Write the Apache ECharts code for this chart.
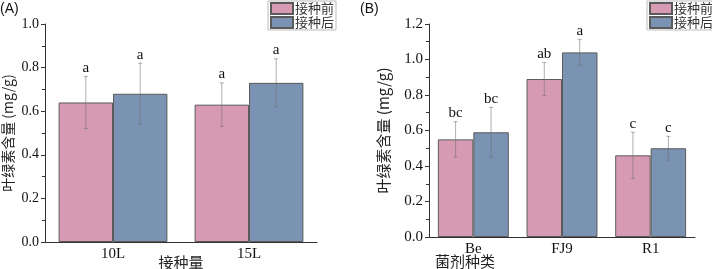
<!DOCTYPE html>
<html>
<head>
<meta charset="utf-8">
<script src="https://cdn.jsdelivr.net/npm/echarts@6/dist/echarts.min.js"></script>
<style>
  html, body { margin: 0; padding: 0; background: #fff; }
  #chart { width: 712px; height: 269px; }
</style>
</head>
<body>
<div id="chart"></div>
<script>
// 图例
var seriesNames = ['接种前', '接种后']

// (A) 接种量
var catsA = ['10L', '15L']
var beforeA = [0.64, 0.63]
var afterA = [0.68, 0.73]
var beforeAErr = [0.12, 0.10]
var afterAErr = [0.14, 0.11]
var beforeALetters = ['a', 'a']
var afterALetters = ['a', 'a']

// (B) 菌剂种类
var catsB = ['Be', 'FJ9', 'R1']
var beforeB = [0.55, 0.89, 0.46]
var afterB = [0.59, 1.04, 0.50]
var beforeBErr = [0.10, 0.093, 0.13]
var afterBErr = [0.14, 0.072, 0.067]
var beforeBLetters = ['bc', 'ab', 'c']
var afterBLetters = ['bc', 'a', 'c']

var pink = '#d69bb3'
var blue = '#7a93b2'
var serif = '"Liberation Serif", "Times New Roman", serif'
var cjk = '"Noto Sans CJK SC", sans-serif'

var chart = echarts.init(document.getElementById('chart'))

// 误差棒 + 显著性字母
function errorSeries (gridIdx, vals, errs, letters, side) {
  var data = vals.map(function (v, i) {
    return [i, v, v - errs[i], v + errs[i], letters[i]]
  })
  return {
    type: 'custom',
    xAxisIndex: gridIdx * 2,
    yAxisIndex: gridIdx,
    z: 10,
    silent: true,
    renderItem: function (params, api) {
      var band = api.size([1, 0])[0]
      var c = api.coord([api.value(0), 0])
      var x = c[0] + side * band * 0.2
      var hi = api.coord([api.value(0), api.value(3)])[1]
      var lo = api.coord([api.value(0), api.value(2)])[1]
      var st = { stroke: 'rgba(110,110,110,0.55)', lineWidth: 1 }
      return {
        type: 'group',
        children: [
          { type: 'line', shape: { x1: x, y1: hi, x2: x, y2: lo }, style: st },
          { type: 'line', shape: { x1: x - 2, y1: hi, x2: x + 2, y2: hi }, style: st },
          { type: 'line', shape: { x1: x - 2, y1: lo, x2: x + 2, y2: lo }, style: st },
          {
            type: 'text',
            x: x,
            y: hi - 1,
            style: {
              text: api.value(4),
              align: 'center',
              verticalAlign: 'bottom',
              font: '15px ' + serif,
              fill: '#111'
            }
          }
        ]
      }
    },
    data: data
  }
}

function barSeries (name, gridIdx, vals, color) {
  return {
    name: name,
    type: 'bar',
    xAxisIndex: gridIdx * 2,
    yAxisIndex: gridIdx,
    barGap: '0%',
    barCategoryGap: '20%',
    itemStyle: { color: color, borderColor: '#5a5a5a', borderWidth: 1 },
    data: vals
  }
}

function xAxes (gridIdx, cats) {
  return [
    {
      type: 'category',
      gridIndex: gridIdx,
      data: cats,
      axisLine: { lineStyle: { color: '#333', width: 1 } },
      axisTick: { alignWithLabel: true, inside: false, length: 4, lineStyle: { color: '#333' } },
      axisLabel: { color: '#111', fontFamily: serif, fontSize: 15, margin: 5 }
    },
    {
      type: 'category',
      gridIndex: gridIdx,
      data: cats,
      position: 'bottom',
      axisLine: { show: false },
      axisTick: { length: 3, lineStyle: { color: '#333' } },
      axisLabel: { show: false }
    }
  ]
}

function yAxis (gridIdx, max, fs) {
  return {
    type: 'value',
    gridIndex: gridIdx,
    min: 0,
    max: max,
    interval: 0.2,
    name: '叶绿素含量 (mg/g)',
    nameLocation: 'middle',
    nameGap: gridIdx === 0 ? 30 : 38,
    nameTextStyle: { fontFamily: cjk, fontSize: fs, color: '#222' },
    axisLine: { show: true, lineStyle: { color: '#333', width: 1 } },
    axisTick: { show: true, length: 4, lineStyle: { color: '#333' } },
    minorTick: { show: true, splitNumber: 2, length: 3, lineStyle: { color: '#333' } },
    splitLine: { show: false },
    axisLabel: {
      color: '#111',
      fontFamily: serif,
      fontSize: fs,
      margin: 6,
      formatter: function (v) { return v.toFixed(1) }
    }
  }
}

function legendAt (left) {
  return {
    data: seriesNames,
    left: left,
    top: 1,
    orient: 'vertical',
    icon: 'rect',
    itemWidth: 22,
    itemHeight: 11,
    itemGap: 1,
    padding: [1, 2, 1, 2],
    borderColor: '#bbb',
    borderWidth: 1,
    borderRadius: 0,
    textStyle: { fontFamily: cjk, fontSize: 13, color: '#333', padding: [0, 0, 0, -3] },
    selectedMode: false
  }
}

chart.setOption({
  animation: false,
  backgroundColor: '#fff',
  legend: [legendAt(268), legendAt(647)],
  grid: [
    { left: 45, right: 395, top: 24, bottom: 27 },
    { left: 429, right: 17, top: 24, bottom: 32 }
  ],
  xAxis: xAxes(0, catsA).concat(xAxes(1, catsB)),
  yAxis: [yAxis(0, 1.0, 14), yAxis(1, 1.2, 15)],
  series: [
    barSeries(seriesNames[0], 0, beforeA, pink),
    barSeries(seriesNames[1], 0, afterA, blue),
    barSeries(seriesNames[0], 1, beforeB, pink),
    barSeries(seriesNames[1], 1, afterB, blue),
    errorSeries(0, beforeA, beforeAErr, beforeALetters, -1),
    errorSeries(0, afterA, afterAErr, afterALetters, 1),
    errorSeries(1, beforeB, beforeBErr, beforeBLetters, -1),
    errorSeries(1, afterB, afterBErr, afterBLetters, 1)
  ],
  graphic: [
    { type: 'text', left: 0, top: 2, style: { text: '(A)', font: '14px "Liberation Sans", Arial, sans-serif', fill: '#111' } },
    { type: 'text', left: 360, top: 2, style: { text: '(B)', font: '14px "Liberation Sans", Arial, sans-serif', fill: '#111' } },
    { type: 'text', x: 181, y: 262, style: { text: '接种量', font: '15px ' + cjk, fill: '#222', align: 'center', verticalAlign: 'middle' } },
    { type: 'text', x: 465, y: 261, style: { text: '菌剂种类', font: '15px ' + cjk, fill: '#222', align: 'center', verticalAlign: 'middle' } }
  ]
})
</script>
</body>
</html>
